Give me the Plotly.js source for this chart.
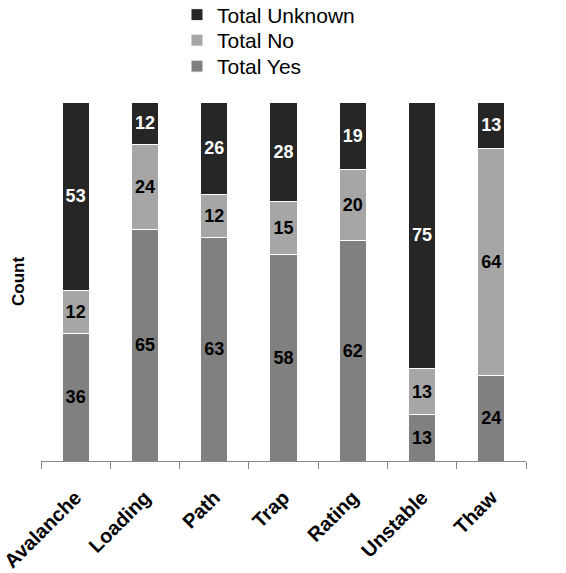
<!DOCTYPE html>
<html>
<head>
<meta charset="utf-8">
<script src="https://cdn.plot.ly/plotly-3.0.1.min.js"></script>
<style>html,body{margin:0;padding:0;background:#fff;}#chart{width:566px;height:573px;}</style>
</head>
<body>
<div id="chart"></div>
<script>
var categories = ["Avalanche", "Loading", "Path", "Trap", "Rating", "Unstable", "Thaw"];
var totalYes = [36, 65, 63, 58, 62, 13, 24];
var totalNo = [12, 24, 12, 15, 20, 13, 64];
var totalUnknown = [53, 12, 26, 28, 19, 75, 13];

var FONT = "Arial, 'Liberation Sans', sans-serif";

function mk(name, vals, color, txtColor, legendId) {
  return {
    type: "bar",
    name: name,
    legend: legendId,
    x: categories,
    y: vals,
    text: vals.map(String),
    textposition: "inside",
    insidetextanchor: "middle",
    textangle: 0,
    textfont: {family: FONT, size: 18, color: txtColor, weight: "bold"},
    marker: {color: color, line: {color: "#ffffff", width: 1}},
    hoverinfo: "x+y+name"
  };
}

var data = [
  mk("Total Yes", totalYes, "#808080", "#000000", "legend3"),
  mk("Total No", totalNo, "#a6a6a6", "#000000", "legend2"),
  mk("Total Unknown", totalUnknown, "#262626", "#ffffff", "legend")
];

function leg(yCenterPx) {
  return {
    xref: "paper", yref: "container",
    x: 0.2804, xanchor: "left",
    y: 1 - yCenterPx / 573, yanchor: "middle",
    font: {family: FONT, size: 21, color: "#000000"},
    bgcolor: "rgba(0,0,0,0)"
  };
}

var layout = {
  width: 566,
  height: 573,
  margin: {l: 41, r: 40, t: 102, b: 112, pad: 0},
  paper_bgcolor: "#ffffff",
  plot_bgcolor: "#ffffff",
  barmode: "stack",
  bargap: 0.61,
  font: {family: FONT, color: "#000000"},
  showlegend: true,
  legend: leg(15),
  legend2: leg(40.5),
  legend3: leg(66.5),
  xaxis: {
    type: "category",
    showline: true,
    linecolor: "#888888",
    linewidth: 1,
    ticks: "outside",
    tickson: "boundaries",
    ticklen: 7,
    tickcolor: "#888888",
    tickwidth: 1,
    tickangle: -45,
    ticklabelstandoff: 16,
    tickfont: {family: FONT, size: 20, color: "#000000", weight: "bold"},
    showgrid: false,
    zeroline: false,
    automargin: false,
    fixedrange: true
  },
  yaxis: {
    range: [0, 101],
    showline: false,
    showticklabels: false,
    ticks: "",
    showgrid: false,
    zeroline: false,
    automargin: false,
    title: {text: "Count", font: {family: FONT, size: 17, color: "#000000", weight: "bold"}, standoff: 11},
    fixedrange: true
  }
};

Plotly.newPlot("chart", data, layout, {displayModeBar: false, staticPlot: true});
</script>
</body>
</html>
